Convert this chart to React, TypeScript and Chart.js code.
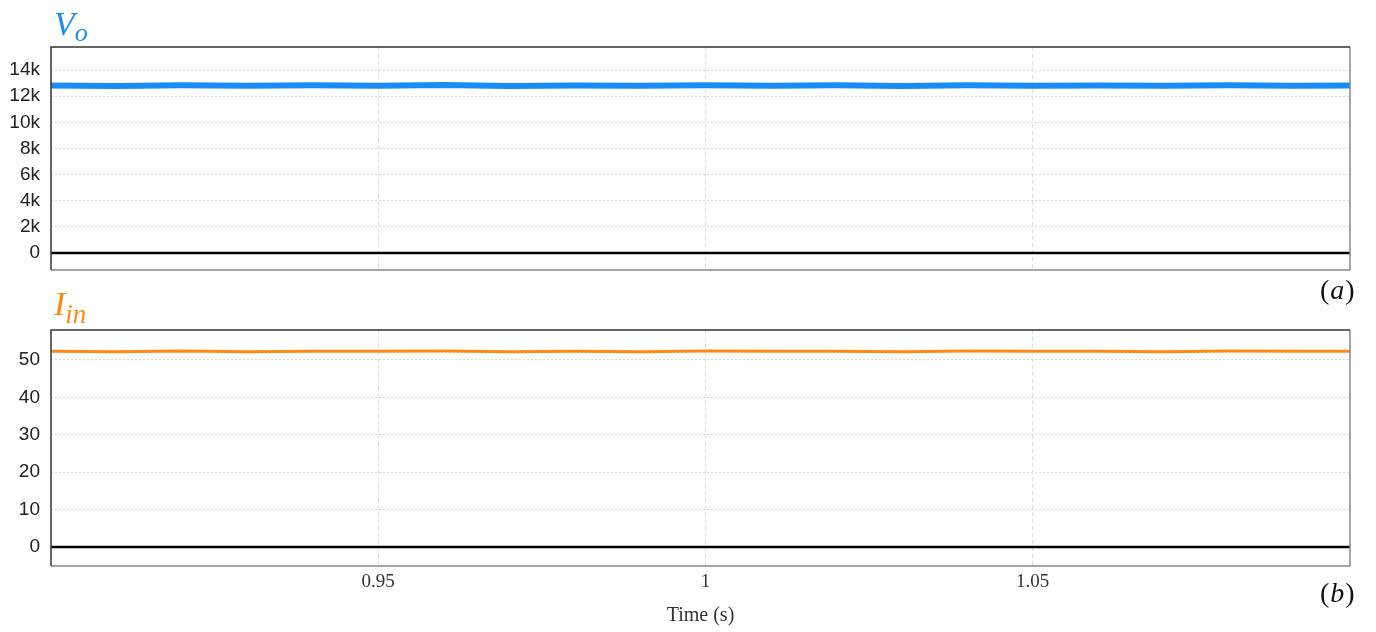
import React, { useEffect, useRef } from "react";
import { Chart, registerables } from "chart.js";

Chart.register(...registerables);

const timePoints = [0.9, 0.91, 0.92, 0.93, 0.94, 0.95, 0.96, 0.97, 0.98, 0.99, 1.0, 1.01, 1.02, 1.03, 1.04, 1.05, 1.06, 1.07, 1.08, 1.09, 1.0985];
const voValues = [12820, 12780, 12840, 12790, 12830, 12800, 12850, 12780, 12820, 12800, 12840, 12790, 12830, 12780, 12840, 12800, 12820, 12790, 12840, 12800, 12820];
const iinValues = [52.3, 52.2, 52.4, 52.2, 52.3, 52.3, 52.4, 52.2, 52.3, 52.2, 52.4, 52.3, 52.3, 52.2, 52.4, 52.3, 52.3, 52.2, 52.4, 52.3, 52.3];
const zeroValues = [0, 0];
const zeroTimes = [0.9, 1.0985];
const xTicks = [0.95, 1, 1.05];
const voTicks = [0, 2000, 4000, 6000, 8000, 10000, 12000, 14000];
const iinTicks = [0, 10, 20, 30, 40, 50];

const X_MIN = 0.9;
const X_MAX = 1.0985;

const framePlugin = {
  id: "frame",
  afterDraw(chart: any) {
    const { ctx, chartArea: a } = chart;
    ctx.save();
    ctx.lineWidth = 1.5;
    ctx.strokeStyle = "#888";
    ctx.beginPath();
    ctx.moveTo(a.right, a.top);
    ctx.lineTo(a.right, a.bottom);
    ctx.lineTo(a.left, a.bottom);
    ctx.stroke();
    ctx.strokeStyle = "#333";
    ctx.beginPath();
    ctx.moveTo(a.left, a.bottom);
    ctx.lineTo(a.left, a.top);
    ctx.lineTo(a.right, a.top);
    ctx.stroke();
    ctx.restore();
  },
};

function makeConfig(
  values: number[],
  color: string,
  width: number,
  yMin: number,
  yMax: number,
  yTicks: number[],
  fmt: (v: number) => string,
  bottom: boolean
): any {
  return {
    type: "line",
    data: {
      datasets: [
        {
          data: zeroTimes.map((t, i) => ({ x: t, y: zeroValues[i] })),
          borderColor: "#000",
          borderWidth: 2.5,
          pointRadius: 0,
        },
        {
          data: timePoints.map((t, i) => ({ x: t, y: values[i] })),
          borderColor: color,
          borderWidth: width,
          pointRadius: 0,
          tension: 0,
        },
      ],
    },
    options: {
      animation: false,
      responsive: false,
      maintainAspectRatio: false,
      events: [],
      layout: {
        padding: bottom
          ? { top: 30, right: 26, left: 0, bottom: 0 }
          : { top: 47, right: 26, left: 0, bottom: 30 },
      },
      plugins: { legend: { display: false }, tooltip: { enabled: false }, title: { display: false } },
      scales: {
        x: {
          type: "linear",
          min: X_MIN,
          max: X_MAX,
          afterBuildTicks: (s: any) => {
            s.ticks = xTicks.map((v) => ({ value: v }));
          },
          afterFit: (s: any) => {
            s.height = bottom ? 66 : 0;
          },
          border: { display: false, dash: [4, 3] },
          grid: {
            color: "#d3e6c8",
            lineWidth: 1,
            drawTicks: false,
          },
          ticks: {
            display: bottom,
            padding: 5,
            color: "#333",
            font: { family: "Liberation Serif", size: 19 },
            maxRotation: 0,
            callback: (v: number) => String(Math.round(v * 100) / 100),
          },
          title: {
            display: bottom,
            text: "Time (s)",
            color: "#333",
            font: { family: "Liberation Serif", size: 20 },
            padding: { top: 0, bottom: 4 },
          },
        },
        y: {
          type: "linear",
          min: yMin,
          max: yMax,
          afterBuildTicks: (s: any) => {
            s.ticks = yTicks.map((v) => ({ value: v }));
          },
          afterFit: (s: any) => {
            s.width = 51;
          },
          border: { display: false, dash: [2, 2] },
          grid: { color: "#d8d8d8", lineWidth: 1, drawTicks: false },
          ticks: {
            padding: 11,
            color: "#222",
            font: { family: "Liberation Sans", size: 19 },
            callback: (v: number) => fmt(v),
          },
        },
      },
    },
    plugins: [framePlugin],
  };
}

function ChartCanvas(props: { config: any; top: number; height: number }) {
  const ref = useRef<HTMLCanvasElement | null>(null);
  useEffect(() => {
    if (!ref.current) return;
    const c = new Chart(ref.current, props.config);
    return () => c.destroy();
  }, []);
  return (
    <canvas
      ref={ref}
      width={1376}
      height={props.height}
      style={{ position: "absolute", left: 0, top: props.top, width: 1376, height: props.height }}
    />
  );
}

const mathFont = "'Liberation Serif', 'DejaVu Serif', serif";

export default function App() {
  const topCfg = makeConfig(voValues, "#1a8cf5", 6, -1300, 15760, voTicks, (v) => (v === 0 ? "0" : v / 1000 + "k"), false);
  const botCfg = makeConfig(iinValues, "#ff8a10", 3, -5.1, 58, iinTicks, (v) => String(v), true);
  return (
    <div style={{ position: "absolute", left: 0, top: 0, width: 1376, height: 632, background: "#fff", overflow: "hidden" }}>
      <ChartCanvas config={topCfg} top={0} height={300} />
      <ChartCanvas config={botCfg} top={300} height={332} />
      <div style={{ position: "absolute", left: 54, top: 6, color: "#1a8cf5", fontFamily: mathFont, fontStyle: "italic", fontSize: 34, lineHeight: "36px" }}>
        V<sub style={{ fontSize: 26, verticalAlign: "-6px" }}>o</sub>
      </div>
      <div style={{ position: "absolute", left: 54, top: 286, color: "#ff8a10", fontFamily: mathFont, fontStyle: "italic", fontSize: 34, lineHeight: "36px" }}>
        I<sub style={{ fontSize: 27, verticalAlign: "-8px" }}>in</sub>
      </div>
      <div style={{ position: "absolute", left: 1320, top: 274, color: "#111", fontFamily: mathFont, fontSize: 28, lineHeight: "32px", letterSpacing: "1px" }}>
        (<i>a</i>)
      </div>
      <div style={{ position: "absolute", left: 1320, top: 577, color: "#111", fontFamily: mathFont, fontSize: 28, lineHeight: "32px", letterSpacing: "1px" }}>
        (<i>b</i>)
      </div>
    </div>
  );
}
